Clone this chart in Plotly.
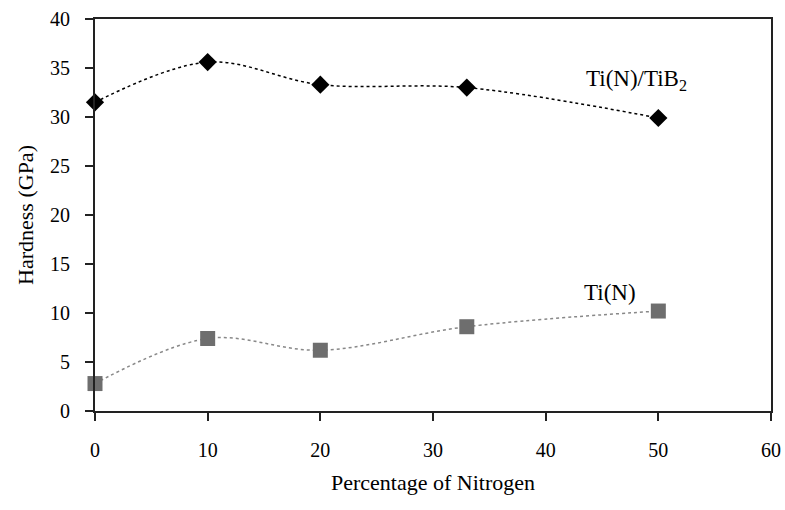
import plotly.graph_objects as go

nitrogen = [0, 10, 20, 33, 50]
tib2_hardness = [31.5, 35.6, 33.3, 33.0, 29.9]
tin_hardness = [2.8, 7.4, 6.2, 8.6, 10.2]
x_ticks = [0, 10, 20, 30, 40, 50, 60]
y_ticks = [0, 5, 10, 15, 20, 25, 30, 35, 40]

font = "Liberation Serif, Times New Roman, serif"

fig = go.Figure()
fig.add_trace(go.Scatter(
    x=nitrogen, y=tib2_hardness, mode="lines+markers",
    line=dict(color="black", width=1.5, dash="dot", shape="spline"),
    marker=dict(symbol="diamond", size=14, color="black"),
    showlegend=False, cliponaxis=False))
fig.add_trace(go.Scatter(
    x=nitrogen, y=tin_hardness, mode="lines+markers",
    line=dict(color="#888888", width=1.5, dash="dot", shape="spline"),
    marker=dict(symbol="square", size=15, color="#6e6e6e"),
    showlegend=False, cliponaxis=False))

fig.add_annotation(x=48.1, y=33.8, text="Ti(N)/TiB<sub>2</sub>", showarrow=False,
                   font=dict(family=font, size=23, color="black"))
fig.add_annotation(x=45.7, y=12.1, text="Ti(N)", showarrow=False,
                   font=dict(family=font, size=23, color="black"))

axis_common = dict(showgrid=False, zeroline=False, showline=True, linecolor="#222222",
                   linewidth=2, mirror=True, ticks="outside", ticklen=8,
                   tickcolor="#222222", tickwidth=1.5, automargin=False,
                   tickfont=dict(family=font, size=20, color="black"))
fig.update_xaxes(range=[0, 60], tickvals=x_ticks, ticklabelstandoff=12, **axis_common,
                 title=dict(text="Percentage of Nitrogen", standoff=15,
                            font=dict(family=font, size=22, color="black")))
fig.update_yaxes(range=[0, 40], tickvals=y_ticks, ticklabelstandoff=11, **axis_common,
                 title=dict(text="Hardness (GPa)", standoff=10,
                            font=dict(family=font, size=22, color="black")))

fig.update_layout(width=785, height=510, margin=dict(l=95, r=14, t=19, b=99),
                  plot_bgcolor="white", paper_bgcolor="white")
fig.write_html("out.html", config={"displayModeBar": False},
               post_script="document.body.style.margin='0';")
